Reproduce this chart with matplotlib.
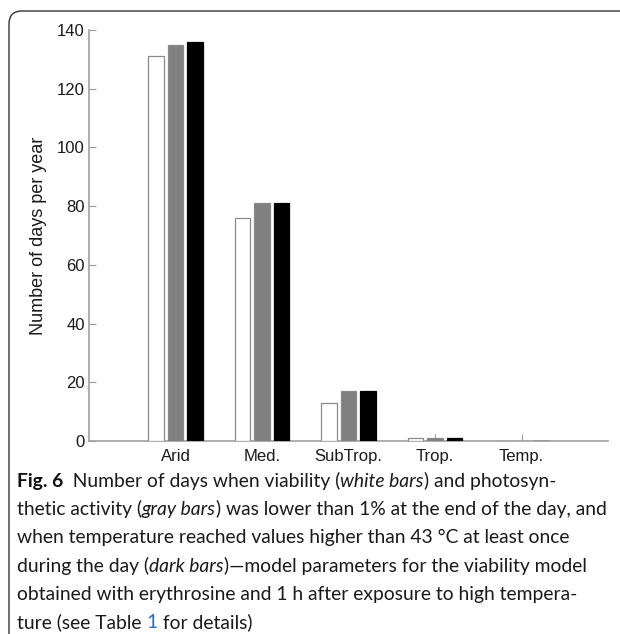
import numpy as np
import matplotlib.pyplot as plt
from matplotlib.patches import FancyBboxPatch

# data
regions = ['Arid', 'Med.', 'SubTrop.', 'Trop.', 'Temp.']
viability = [131, 76, 13, 1, 0]        # white bars
photosynthesis = [135, 81, 17, 1, 0]   # gray bars
temperature = [136, 81, 17, 1, 0]      # dark bars
yticks = [0, 20, 40, 60, 80, 100, 120, 140]

W, H = 620, 634
fig = plt.figure(figsize=(W / 100, H / 100), dpi=100)

# background layer in pixel units (frame + caption)
bg = fig.add_axes([0, 0, 1, 1])
bg.set_xlim(0, W)
bg.set_ylim(H, 0)
bg.axis('off')
bg.add_patch(FancyBboxPatch((9, 11), 800, 800, boxstyle='round,pad=0,rounding_size=13',
                            facecolor='white', edgecolor='#333333', linewidth=1.0))

# chart
ax = fig.add_axes([89 / W, 1 - 441 / H, (608 - 89) / W, (441 - 30) / H])
x = np.arange(1, len(regions) + 1)
w = 0.18
off = 0.227
ax.bar(x - off, viability, w, color='white', edgecolor='#8a8a8a', linewidth=0.9, zorder=3)
ax.bar(x, photosynthesis, w, color='#808080', edgecolor='#8a8a8a', linewidth=0.9, zorder=3)
ax.bar(x + off, temperature, w, color='black', edgecolor='black', linewidth=0.9, zorder=3)

ax.set_xlim(0, 6)
ax.set_ylim(0, 140)
ax.set_xticks(x)
ax.set_xticklabels(regions)
ax.set_yticks(yticks)
for s in ['top', 'right']:
    ax.spines[s].set_visible(False)
for s in ['left', 'bottom']:
    ax.spines[s].set_color('#a0a0a0')
    ax.spines[s].set_linewidth(1.2)
    ax.spines[s].set_zorder(2)
ax.tick_params(axis='both', direction='in', length=5, width=0.8, color='#9a9a9a',
               labelsize=12, labelcolor='#1a1a1a')
ax.tick_params(axis='x', pad=6)
ax.tick_params(axis='y', pad=3)
for lab in ax.get_xticklabels() + ax.get_yticklabels():
    lab.set_family(['Liberation Sans', 'DejaVu Sans'])
ax.set_ylabel('Number of days per year', fontsize=13, color='#1a1a1a',
              family=['Liberation Sans', 'DejaVu Sans'], labelpad=7)
ax.patch.set_alpha(0)

# caption, drawn run by run
caption = [
    [('Fig. 6', 'bold', 'k'), ('  Number of days when viability (', 'normal', 'k'),
     ('white bars', 'italic', 'k'), (') and photosyn-', 'normal', 'k')],
    [('thetic activity (', 'normal', 'k'), ('gray bars', 'italic', 'k'),
     (') was lower than 1% at the end of the day, and', 'normal', 'k')],
    [('when temperature reached values higher than 43 °C at least once', 'normal', 'k')],
    [('during the day (', 'normal', 'k'), ('dark bars', 'italic', 'k'),
     (')\u2014model parameters for the viability model', 'normal', 'k')],
    [('obtained with erythrosine and 1 h after exposure to high tempera-', 'normal', 'k')],
    [('ture (see Table ', 'normal', 'k'), ('1', 'normal', 'b'), (' for details)', 'normal', 'k')],
]
cap_font = ['Lato', 'DejaVu Sans']
renderer = fig.canvas.get_renderer()

# size the caption so its second line spans the same width as the reference
probe = bg.text(0, 0, ''.join(r[0] for r in caption[1]), fontsize=10, family=cap_font)
pw = probe.get_window_extent(renderer).width
probe.remove()
cap_size = 10 * 593 / pw

x0 = 17
for i, line in enumerate(caption):
    xc = x0
    yb = 487 + 28.2 * i
    for txt, style, col in line:
        kw = dict(fontsize=cap_size, family=cap_font, va='baseline', ha='left',
                  color='#1a1a1a' if col == 'k' else '#2a6ebb')
        if style == 'bold':
            kw['fontweight'] = 'bold'
            kw['color'] = '#111111'
        if style == 'italic':
            kw['fontstyle'] = 'italic'
        t = bg.text(xc, yb, txt, **kw)
        xc += t.get_window_extent(renderer).width

fig.savefig('out.png', dpi=100)
